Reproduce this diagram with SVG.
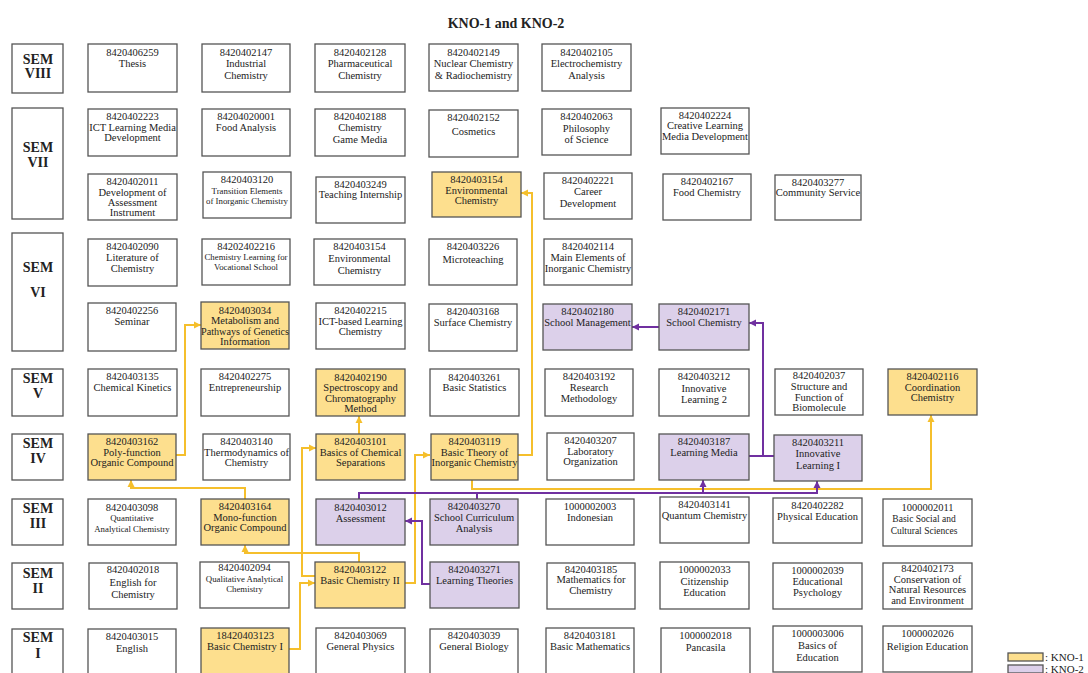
<svg xmlns="http://www.w3.org/2000/svg" width="1088" height="673" viewBox="0 0 1088 673">
<style>
.box{fill:#fff;stroke:#555;stroke-width:1.3}
.k1{fill:#FDDF8E}
.k2{fill:#DCD0EA}
text{font-family:"Liberation Serif","Times New Roman",serif;font-size:10.5px;fill:#222;text-anchor:middle}
.sm{font-size:8.8px}
.sem{font-size:14px;font-weight:bold}
.title{font-size:14px;font-weight:bold}
.lg{font-size:11px;text-anchor:start}
.cy{fill:none;stroke:#F5BF2C;stroke-width:2}
.cp{fill:none;stroke:#7030A0;stroke-width:2}
</style>
<defs>
<marker id="ay" markerWidth="8" markerHeight="8" refX="7" refY="4" orient="auto" markerUnits="userSpaceOnUse"><path d="M0,0.5 L7,4 L0,7.5 z" fill="#F5BF2C"/></marker>
<marker id="ap" markerWidth="8" markerHeight="8" refX="7" refY="4" orient="auto" markerUnits="userSpaceOnUse"><path d="M0,0.5 L7,4 L0,7.5 z" fill="#7030A0"/></marker>
</defs>
<rect width="1088" height="673" fill="#fff"/>
<text class="title" x="506" y="28">KNO-1 and KNO-2</text>

<!-- semester labels -->
<g id="sem8"><rect class="box" x="12" y="44" width="51" height="49"/><text class="sem" x="38" y="64">SEM</text><text class="sem" x="38" y="78">VIII</text></g>
<g id="sem7"><rect class="box" x="12" y="108" width="51" height="111"/><text class="sem" x="38" y="152">SEM</text><text class="sem" x="38" y="167">VII</text></g>
<g id="sem6"><rect class="box" x="12" y="233" width="51" height="118"/><text class="sem" x="38" y="272">SEM</text><text class="sem" x="38" y="297">VI</text></g>
<g id="sem5"><rect class="box" x="12" y="369" width="51" height="47"/><text class="sem" x="38" y="383">SEM</text><text class="sem" x="38" y="398">V</text></g>
<g id="sem4"><rect class="box" x="12" y="434" width="51" height="46"/><text class="sem" x="38" y="448">SEM</text><text class="sem" x="38" y="463">IV</text></g>
<g id="sem3"><rect class="box" x="12" y="499" width="51" height="46"/><text class="sem" x="38" y="513">SEM</text><text class="sem" x="38" y="528">III</text></g>
<g id="sem2"><rect class="box" x="12" y="563" width="51" height="46"/><text class="sem" x="38" y="578">SEM</text><text class="sem" x="38" y="593">II</text></g>
<g id="sem1"><rect class="box" x="12" y="629" width="51" height="46"/><text class="sem" x="38" y="642">SEM</text><text class="sem" x="38" y="658">I</text></g>

<!-- connectors -->
<g id="connectors">
<path class="cy" d="M289,649 H300 V583 H315" marker-end="url(#ay)"/>
<path class="cy" d="M315,576 H302 V448 H316" marker-end="url(#ay)"/>
<path class="cy" d="M359,563 V553 H245 V545" marker-end="url(#ay)"/>
<path class="cy" d="M405,583 H415 V455 H430" marker-end="url(#ay)"/>
<path class="cy" d="M245,499 V488 H131 V480" marker-end="url(#ay)"/>
<path class="cy" d="M176,455 H185 V325 H201" marker-end="url(#ay)"/>
<path class="cy" d="M359,434 V416" marker-end="url(#ay)"/>
<path class="cy" d="M518,455 H532 V193 H521" marker-end="url(#ay)"/>
<path class="cy" d="M472,480 V489 H931 V415" marker-end="url(#ay)"/>
<path class="cp" d="M359,499 V493 H703 V480" marker-end="url(#ap)"/>
<path class="cp" d="M477,499 V493"/>
<path class="cp" d="M703,493 H817 V481" marker-end="url(#ap)"/>
<path class="cp" d="M430,584 H422 V521 H405" marker-end="url(#ap)"/>
<path class="cp" d="M749,456 H774"/>
<path class="cp" d="M763,456 V323 H749" marker-end="url(#ap)"/>
<path class="cp" d="M659,327 H632" marker-end="url(#ap)"/>
</g>

<!-- SEM VIII -->
<g id="n8420406259"><rect class="box" x="88" y="44" width="89" height="48"/><text x="132.5" y="55.5">8420406259</text><text x="132.5" y="67">Thesis</text></g>
<g id="n8420402147"><rect class="box" x="202" y="44" width="88" height="48"/><text x="246" y="55.5">8420402147</text><text x="246" y="67">Industrial</text><text x="246" y="79">Chemistry</text></g>
<g id="n8420402128"><rect class="box" x="315" y="44" width="90" height="48"/><text x="360" y="55.5">8420402128</text><text x="360" y="67">Pharmaceutical</text><text x="360" y="79">Chemistry</text></g>
<g id="n8420402149"><rect class="box" x="429" y="44" width="89" height="47"/><text x="473.5" y="55.5">8420402149</text><text x="473.5" y="67">Nuclear Chemistry</text><text x="473.5" y="79">&amp; Radiochemistry</text></g>
<g id="n8420402105"><rect class="box" x="542" y="44" width="89" height="47"/><text x="586.5" y="55.5">8420402105</text><text x="586.5" y="67">Electrochemistry</text><text x="586.5" y="79">Analysis</text></g>

<!-- SEM VII row 1 -->
<g id="n8420402223"><rect class="box" x="88" y="109" width="89" height="47"/><text x="132.5" y="120">8420402223</text><text x="132.5" y="130.5">ICT Learning Media</text><text x="132.5" y="141">Development</text></g>
<g id="n84204020001"><rect class="box" x="202" y="109" width="88" height="47"/><text x="246" y="120">84204020001</text><text x="246" y="131">Food Analysis</text></g>
<g id="n8420402188"><rect class="box" x="315" y="109" width="90" height="47"/><text x="360" y="120">8420402188</text><text x="360" y="131">Chemistry</text><text x="360" y="143">Game Media</text></g>
<g id="n8420402152"><rect class="box" x="429" y="110" width="89" height="47"/><text x="473.5" y="121">8420402152</text><text x="473.5" y="134.5">Cosmetics</text></g>
<g id="n8420402063"><rect class="box" x="542" y="109" width="89" height="46"/><text x="586.5" y="120">8420402063</text><text x="586.5" y="131.5">Philosophy</text><text x="586.5" y="143">of Science</text></g>
<g id="n8420402224"><rect class="box" x="661" y="108" width="88" height="46"/><text x="705" y="119">8420402224</text><text x="705" y="129">Creative Learning</text><text x="705" y="139.5">Media Development</text></g>

<!-- SEM VII row 2 -->
<g id="n8420402011"><rect class="box" x="88" y="174" width="89" height="46"/><text x="132.5" y="185">8420402011</text><text x="132.5" y="196">Development of</text><text x="132.5" y="206">Assessment</text><text x="132.5" y="216">Instrument</text></g>
<g id="n8420403120"><rect class="box" x="203" y="172" width="88" height="46"/><text x="247" y="183">8420403120</text><text class="sm" x="247" y="194">Transition Elements</text><text class="sm" x="247" y="204">of Inorganic Chemistry</text></g>
<g id="n8420403249"><rect class="box" x="316" y="177" width="89" height="46"/><text x="360.5" y="188">8420403249</text><text x="360.5" y="198">Teaching Internship</text></g>
<g id="n8420403154a"><rect class="box k1" x="432" y="172" width="89" height="45"/><text x="476.5" y="183">8420403154</text><text x="476.5" y="193.5">Environmental</text><text x="476.5" y="204">Chemistry</text></g>
<g id="n8420402221"><rect class="box" x="544" y="173" width="88" height="46"/><text x="588" y="184">8420402221</text><text x="588" y="195">Career</text><text x="588" y="206.5">Development</text></g>
<g id="n8420402167"><rect class="box" x="663" y="174" width="88" height="46"/><text x="707" y="185">8420402167</text><text x="707" y="196">Food Chemistry</text></g>
<g id="n8420403277"><rect class="box" x="775" y="175" width="86" height="45"/><text x="818" y="186">8420403277</text><text x="818" y="196">Community Service</text></g>

<!-- SEM VI row 1 -->
<g id="n8420402090"><rect class="box" x="88" y="239" width="89" height="47"/><text x="132.5" y="250">8420402090</text><text x="132.5" y="260.5">Literature of</text><text x="132.5" y="271.5">Chemistry</text></g>
<g id="n84202402216"><rect class="box" x="202" y="239" width="88" height="46"/><text x="246" y="250">84202402216</text><text class="sm" x="246" y="260">Chemistry Learning for</text><text class="sm" x="246" y="270">Vocational School</text></g>
<g id="n8420403154b"><rect class="box" x="314" y="239" width="91" height="46"/><text x="359.5" y="250">8420403154</text><text x="359.5" y="261.5">Environmental</text><text x="359.5" y="274">Chemistry</text></g>
<g id="n8420403226"><rect class="box" x="429" y="239" width="88" height="46"/><text x="473" y="250">8420403226</text><text x="473" y="263">Microteaching</text></g>
<g id="n8420402114"><rect class="box" x="544" y="239" width="88" height="46"/><text x="588" y="250">8420402114</text><text x="588" y="261">Main Elements of</text><text x="588" y="271.5">Inorganic Chemistry</text></g>

<!-- SEM VI row 2 -->
<g id="n8420402256"><rect class="box" x="88" y="303" width="88" height="48"/><text x="132" y="314">8420402256</text><text x="132" y="325">Seminar</text></g>
<g id="n8420403034"><rect class="box k1" x="201" y="302" width="88" height="47"/><text x="245" y="313.5">8420403034</text><text x="245" y="324">Metabolism and</text><text x="245" y="334.5" textLength="88" lengthAdjust="spacingAndGlyphs">Pathways of Genetics</text><text x="245" y="345">Information</text></g>
<g id="n8420402215"><rect class="box" x="316" y="303" width="89" height="46"/><text x="360.5" y="314">8420402215</text><text x="360.5" y="324.5">ICT-based Learning</text><text x="360.5" y="335">Chemistry</text></g>
<g id="n8420403168"><rect class="box" x="429" y="304" width="88" height="47"/><text x="473" y="315">8420403168</text><text x="473" y="326">Surface Chemistry</text></g>
<g id="n8420402180"><rect class="box k2" x="543" y="304" width="89" height="46"/><text x="587.5" y="315">8420402180</text><text x="587.5" y="325.5">School Management</text></g>
<g id="n8420402171"><rect class="box k2" x="659" y="304" width="90" height="46"/><text x="704" y="315">8420402171</text><text x="704" y="326">School Chemistry</text></g>

<!-- SEM V -->
<g id="n8420403135"><rect class="box" x="88" y="369" width="89" height="47"/><text x="132.5" y="380">8420403135</text><text x="132.5" y="390.5">Chemical Kinetics</text></g>
<g id="n8420402275"><rect class="box" x="201" y="369" width="88" height="47"/><text x="245" y="380">8420402275</text><text x="245" y="391">Entrepreneurship</text></g>
<g id="n8420402190"><rect class="box k1" x="316" y="369" width="89" height="47"/><text x="360.5" y="380.5">8420402190</text><text x="360.5" y="391">Spectroscopy and</text><text x="360.5" y="401.5">Chromatography</text><text x="360.5" y="412">Method</text></g>
<g id="n8420403261"><rect class="box" x="430" y="369" width="89" height="47"/><text x="474.5" y="380.5">8420403261</text><text x="474.5" y="391">Basic Statistics</text></g>
<g id="n8420403192"><rect class="box" x="545" y="369" width="88" height="47"/><text x="589" y="380">8420403192</text><text x="589" y="391">Research</text><text x="589" y="402">Methodology</text></g>
<g id="n8420403212"><rect class="box" x="659" y="369" width="90" height="47"/><text x="704" y="380">8420403212</text><text x="704" y="391.5">Innovative</text><text x="704" y="403">Learning 2</text></g>
<g id="n8420402037"><rect class="box" x="775" y="369" width="88" height="46"/><text x="819" y="379">8420402037</text><text x="819" y="390">Structure and</text><text x="819" y="400.5">Function of</text><text x="819" y="410.5">Biomolecule</text></g>
<g id="n8420402116"><rect class="box k1" x="888" y="369" width="89" height="46"/><text x="932.5" y="380">8420402116</text><text x="932.5" y="390.5">Coordination</text><text x="932.5" y="401">Chemistry</text></g>

<!-- SEM IV -->
<g id="n8420403162"><rect class="box k1" x="88" y="434" width="88" height="46"/><text x="132" y="445">8420403162</text><text x="132" y="455.5">Poly-function</text><text x="132" y="466">Organic Compound</text></g>
<g id="n8420403140"><rect class="box" x="203" y="434" width="87" height="46"/><text x="246.5" y="445">8420403140</text><text x="246.5" y="455.5">Thermodynamics of</text><text x="246.5" y="466">Chemistry</text></g>
<g id="n8420403101"><rect class="box k1" x="316" y="434" width="89" height="46"/><text x="360.5" y="445">8420403101</text><text x="360.5" y="455.5">Basics of Chemical</text><text x="360.5" y="466">Separations</text></g>
<g id="n8420403119"><rect class="box k1" x="431" y="434" width="87" height="46"/><text x="474.5" y="445">8420403119</text><text x="474.5" y="455.5">Basic Theory of</text><text x="474.5" y="466" textLength="86" lengthAdjust="spacingAndGlyphs">Inorganic Chemistry</text></g>
<g id="n8420403207"><rect class="box" x="547" y="433" width="87" height="47"/><text x="590.5" y="444">8420403207</text><text x="590.5" y="454.5">Laboratory</text><text x="590.5" y="465">Organization</text></g>
<g id="n8420403187"><rect class="box k2" x="659" y="434" width="90" height="46"/><text x="704" y="445">8420403187</text><text x="704" y="455.5">Learning Media</text></g>
<g id="n8420403211"><rect class="box k2" x="774" y="435" width="88" height="46"/><text x="818" y="446">8420403211</text><text x="818" y="457">Innovative</text><text x="818" y="468.5">Learning I</text></g>

<!-- SEM III -->
<g id="n8420403098"><rect class="box" x="88" y="499" width="88" height="46"/><text x="132" y="510.5">8420403098</text><text class="sm" x="132" y="520.5">Quantitative</text><text class="sm" x="132" y="531.5">Analytical Chemistry</text></g>
<g id="n8420403164"><rect class="box k1" x="201" y="499" width="88" height="46"/><text x="245" y="510">8420403164</text><text x="245" y="520.5">Mono-function</text><text x="245" y="531">Organic Compound</text></g>
<g id="n8420403012"><rect class="box k2" x="316" y="499" width="89" height="46"/><text x="360.5" y="510.5">8420403012</text><text x="360.5" y="521.5">Assessment</text></g>
<g id="n8420403270"><rect class="box k2" x="430" y="499" width="88" height="46"/><text x="474" y="510">8420403270</text><text x="474" y="520.5">School Curriculum</text><text x="474" y="531.5">Analysis</text></g>
<g id="n1000002003"><rect class="box" x="546" y="499" width="88" height="46"/><text x="590" y="510">1000002003</text><text x="590" y="520.5">Indonesian</text></g>
<g id="n8420403141"><rect class="box" x="660" y="497" width="89" height="46"/><text x="704.5" y="508">8420403141</text><text x="704.5" y="518.5">Quantum Chemistry</text></g>
<g id="n8420402282"><rect class="box" x="773" y="498" width="89" height="45"/><text x="817.5" y="509">8420402282</text><text x="817.5" y="519.5">Physical Education</text></g>
<g id="n1000002011"><rect class="box" x="883" y="499" width="89" height="47"/><text x="927.5" y="510.5">1000002011</text><text class="sm" x="924" y="521.5" style="font-size:9.5px">Basic Social  and</text><text class="sm" x="924" y="533.5" style="font-size:9.5px">Cultural Sciences</text></g>

<!-- SEM II -->
<g id="n8420402018"><rect class="box" x="89" y="563" width="88" height="46"/><text x="133" y="573">8420402018</text><text x="133" y="585.5">English for</text><text x="133" y="597.5">Chemistry</text></g>
<g id="n8420402094"><rect class="box" x="200" y="562" width="89" height="46"/><text x="244.5" y="571">8420402094</text><text class="sm" x="244.5" y="582">Qualitative Analytical</text><text class="sm" x="244.5" y="591.5">Chemistry</text></g>
<g id="n8420403122"><rect class="box k1" x="315" y="562" width="90" height="46"/><text x="360" y="573">8420403122</text><text x="360" y="584">Basic Chemistry II</text></g>
<g id="n8420403271"><rect class="box k2" x="430" y="562" width="89" height="46"/><text x="474.5" y="573">8420403271</text><text x="474.5" y="584">Learning Theories</text></g>
<g id="n8420403185"><rect class="box" x="547" y="563" width="88" height="46"/><text x="591" y="572.5">8420403185</text><text x="591" y="583">Mathematics for</text><text x="591" y="593.5">Chemistry</text></g>
<g id="n1000002033"><rect class="box" x="660" y="562" width="89" height="47"/><text x="704.5" y="573">1000002033</text><text x="704.5" y="584.5">Citizenship</text><text x="704.5" y="596">Education</text></g>
<g id="n1000002039"><rect class="box" x="773" y="563" width="89" height="46"/><text x="817.5" y="574">1000002039</text><text x="817.5" y="585">Educational</text><text x="817.5" y="596">Psychology</text></g>
<g id="n8420402173"><rect class="box" x="883" y="563" width="89" height="46"/><text x="927.5" y="572">8420402173</text><text x="927.5" y="582.5">Conservation of</text><text x="927.5" y="593">Natural Resources</text><text x="927.5" y="603.5">and Environment</text></g>

<!-- SEM I -->
<g id="n8420403015"><rect class="box" x="88" y="629" width="88" height="46"/><text x="132" y="640">8420403015</text><text x="132" y="652">English</text></g>
<g id="n18420403123"><rect class="box k1" x="201" y="628" width="88" height="47"/><text x="245" y="639">18420403123</text><text x="245" y="650">Basic Chemistry I</text></g>
<g id="n8420403069"><rect class="box" x="316" y="628" width="89" height="47"/><text x="360.5" y="639">8420403069</text><text x="360.5" y="650">General Physics</text></g>
<g id="n8420403039"><rect class="box" x="430" y="629" width="88" height="46"/><text x="474" y="639">8420403039</text><text x="474" y="650">General Biology</text></g>
<g id="n8420403181"><rect class="box" x="546" y="628" width="88" height="47"/><text x="590" y="638.5">8420403181</text><text x="590" y="649.5">Basic Mathematics</text></g>
<g id="n1000002018"><rect class="box" x="661" y="628" width="89" height="47"/><text x="705.5" y="638.5">1000002018</text><text x="705.5" y="650.5">Pancasila</text></g>
<g id="n1000003006"><rect class="box" x="773" y="626" width="89" height="46"/><text x="817.5" y="637">1000003006</text><text x="817.5" y="649">Basics of</text><text x="817.5" y="661">Education</text></g>
<g id="n1000002026"><rect class="box" x="883" y="626" width="89" height="46"/><text x="927.5" y="637">1000002026</text><text x="927.5" y="650">Religion Education</text></g>

<!-- legend -->
<g id="legend">
<rect class="box k1" x="1008" y="653" width="35" height="8"/><text class="lg" x="1045" y="661">: KNO-1</text>
<rect class="box k2" x="1008" y="665" width="35" height="8"/><text class="lg" x="1045" y="673">: KNO-2</text>
</g>
</svg>
